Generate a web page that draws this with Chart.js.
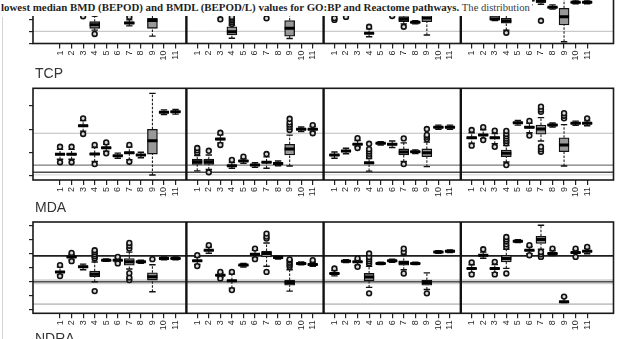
<!DOCTYPE html>
<html>
<head>
<meta charset="utf-8">
<script src="https://cdn.jsdelivr.net/npm/chart.js@4/dist/chart.umd.min.js"></script>
<style>
  html, body { margin: 0; padding: 0; background: #fff; }
  body { width: 629px; height: 339px; position: relative; overflow: hidden;
         font-family: "Liberation Sans", Arial, sans-serif; }
  canvas { position: absolute; left: 0; }
  .caption { position: absolute; left: 1px; top: 0; width: 531px; height: 16px; background: #fff;
             font-family: "Liberation Serif", "Times New Roman", serif; font-size: 10.9px;
             line-height: 15px; white-space: nowrap; color: #1e1e1e; z-index: 5; overflow: hidden; }
  .caption span { color: #3a3a3a; font-size: 10.6px; }
  .rowlabel { position: absolute; left: 35px; font-size: 14px; line-height: 14px; color: #333; z-index: 4; }
  .edge { position: absolute; left: 2px; top: 17px; width: 1px; height: 322px; background: #d4d4d4; }
</style>
</head>
<body>
<div class="edge"></div>
<div class="caption"><b>lowest median BMD (BEPOD) and BMDL (BEPOD/L) values for GO:BP and Reactome pathways.</b> <span>The distribution</span></div>
<canvas id="rowTop" width="629" height="130" style="top:-40px"></canvas>
<canvas id="rowTCP" width="629" height="130" style="top:80px"></canvas>
<canvas id="rowMDA" width="629" height="125" style="top:214px"></canvas>
<div class="rowlabel" style="top:66px">TCP</div>
<div class="rowlabel" style="top:200px">MDA</div>
<div class="rowlabel" style="top:331px">NDRA</div>

<script>
// Category labels shared by every panel
const categories = ['1', '2', '3', '4', '5', '6', '7', '8', '9', '10', '11'];

// Each entry: [lower whisker, Q1, median, Q3, upper whisker, [outliers]]
const rowTopPanel1 = [
  [2.9, 3.3, 3.5, 3.7, 4.2, []], [2.9, 3.3, 3.5, 3.7, 4.2, []], [2.8, 3.1, 3.3, 3.5, 3.9, [2.25]],
  [1.1, 1.25, 1.55, 1.80, 2.3, [0.78, 2.45]], [3.0, 3.4, 3.6, 3.8, 4.3, []], [3.1, 3.5, 3.7, 3.9, 4.4, []],
  [1.45, 1.62, 1.7, 1.78, 1.95, [2.2]], [3.0, 3.3, 3.5, 3.7, 4.1, []], [0.6, 1.25, 1.9, 2.08, 3.4, []],
  [3.3, 3.6, 3.8, 4.0, 4.4, []], [3.3, 3.6, 3.8, 4.0, 4.4, []]
];
const rowTopPanel2 = [
  [3.0, 3.4, 3.6, 3.8, 4.2, []], [3.0, 3.4, 3.6, 3.8, 4.2, []], [2.6, 3.0, 3.2, 3.4, 3.8, [2.0]],
  [0.42, 0.69, 0.97, 1.38, 1.5, [1.6, 1.75, 1.9, 2.05, 2.2]], [3.0, 3.3, 3.5, 3.7, 4.1, []],
  [3.1, 3.4, 3.6, 3.8, 4.2, []], [2.7, 3.1, 3.3, 3.5, 3.9, [2.08]], [3.0, 3.3, 3.5, 3.7, 4.1, []],
  [0.4, 0.6, 1.25, 1.9, 2.6, []], [3.4, 3.7, 3.9, 4.1, 4.5, []], [3.4, 3.7, 3.9, 4.1, 4.5, []]
];
const rowTopPanel3 = [
  [2.3, 2.6, 2.8, 3.0, 3.4, [1.95, 2.1]], [2.6, 2.9, 3.1, 3.3, 3.7, [2.2]], [2.9, 3.2, 3.4, 3.6, 4.0, []],
  [0.55, 0.80, 0.83, 0.86, 1.2, [1.38]], [3.0, 3.3, 3.5, 3.7, 4.1, []], [2.6, 3.0, 3.2, 3.4, 3.8, [2.28]],
  [1.62, 1.80, 2.0, 2.22, 2.8, [1.38]], [1.62, 1.71, 1.75, 1.79, 1.88, []], [0.69, 1.80, 2.1, 2.5, 3.2, []],
  [3.3, 3.6, 3.8, 4.0, 4.4, []], [3.3, 3.6, 3.8, 4.0, 4.4, []]
];
const rowTopPanel4 = [
  [3.0, 3.4, 3.6, 3.8, 4.2, []], [3.0, 3.4, 3.6, 3.8, 4.2, []], [1.9, 1.97, 2.02, 2.3, 2.8, []],
  [1.1, 1.67, 1.85, 2.08, 2.6, [0.88]], [3.0, 3.3, 3.5, 3.7, 4.1, []], [3.2, 3.5, 3.7, 3.9, 4.3, []],
  [3.25, 3.4, 3.5, 3.6, 3.9, [1.88]], [2.85, 2.95, 3.0, 3.05, 3.2, []], [0.13, 1.53, 2.22, 2.92, 3.7, []],
  [3.3, 3.38, 3.42, 3.46, 3.6, []], [3.3, 3.38, 3.42, 3.46, 3.6, []]
];

const rowTCPPanel1 = [
  [0.72, 0.90, 0.93, 0.96, 1.14, [0.59, 1.25]], [0.72, 0.90, 0.93, 0.96, 1.14, [0.59, 1.25]],
  [1.92, 2.11, 2.15, 2.19, 2.38, [1.80, 2.47]], [0.62, 0.90, 0.94, 0.98, 1.22, [0.51, 1.33]],
  [1.06, 1.18, 1.21, 1.24, 1.36, [0.97, 1.44]], [0.76, 0.84, 0.87, 0.90, 0.98, []],
  [0.70, 0.96, 1.00, 1.04, 1.24, [0.61, 1.33]], [0.78, 0.87, 0.90, 0.93, 1.02, []],
  [0.04, 0.94, 1.51, 2.00, 3.54, []], [2.63, 2.70, 2.73, 2.76, 2.83, []], [2.65, 2.72, 2.75, 2.78, 2.85, []]
];
const rowTCPPanel2 = [
  [0.22, 0.50, 0.61, 0.72, 0.88, [1.00, 1.10, 1.20]], [0.28, 0.50, 0.61, 0.72, 0.90, [0.16, 1.08]],
  [1.42, 1.54, 1.58, 1.62, 1.76, [1.33, 1.85]], [0.33, 0.41, 0.44, 0.47, 0.58, [0.69]],
  [0.54, 0.61, 0.64, 0.67, 0.74, [0.83]], [0.37, 0.44, 0.47, 0.50, 0.57, []],
  [0.33, 0.56, 0.59, 0.62, 0.82, [0.94]], [0.44, 0.51, 0.54, 0.57, 0.64, []],
  [0.43, 0.90, 1.16, 1.36, 1.75, [1.97, 2.10, 2.20, 2.30, 2.45]], [1.90, 1.97, 2.00, 2.03, 2.10, []],
  [1.88, 1.97, 2.00, 2.03, 2.12, [1.83, 2.18]]
];
const rowTCPPanel3 = [
  [0.76, 0.86, 0.90, 0.94, 1.03, []], [0.95, 1.03, 1.07, 1.11, 1.19, []],
  [1.25, 1.33, 1.36, 1.39, 1.52, [1.20, 1.62]], [0.21, 0.52, 0.57, 0.60, 0.75, [0.85, 0.95, 1.05, 1.15, 1.38]],
  [1.33, 1.37, 1.40, 1.43, 1.47, []], [1.22, 1.32, 1.36, 1.40, 1.50, []],
  [0.62, 0.90, 1.03, 1.16, 1.42, [0.51, 1.61]], [0.96, 1.01, 1.04, 1.07, 1.12, []],
  [0.40, 0.83, 1.00, 1.16, 1.45, [1.58, 1.68, 1.76, 2.01]], [2.00, 2.06, 2.09, 2.12, 2.18, []],
  [2.00, 2.06, 2.09, 2.12, 2.18, []]
];
const rowTCPPanel4 = [
  [1.40, 1.60, 1.64, 1.68, 1.85, [1.30, 1.97]], [1.60, 1.72, 1.76, 1.80, 1.98, [1.54, 2.09]],
  [1.38, 1.60, 1.64, 1.68, 1.82, [1.25, 1.94]], [0.60, 0.83, 0.97, 1.11, 1.30, [0.47, 1.40, 1.50, 1.60, 1.70, 1.80, 1.93]],
  [2.18, 2.25, 2.28, 2.31, 2.38, []], [1.85, 2.05, 2.09, 2.13, 2.26, [1.73, 2.36]],
  [1.50, 1.79, 2.01, 2.18, 2.50, [1.04, 1.15, 1.25, 2.75, 2.85, 2.97]], [2.10, 2.15, 2.18, 2.21, 2.27, []],
  [0.43, 1.04, 1.33, 1.64, 2.20, [2.47, 2.58, 2.69]], [2.17, 2.23, 2.26, 2.29, 2.35, []],
  [2.15, 2.23, 2.26, 2.29, 2.36, [2.47]]
];

const rowMDAPanel1 = [
  [2.50, 2.66, 2.70, 2.74, 3.05, [2.40, 3.18]], [3.55, 3.72, 3.76, 3.80, 3.95, [3.46, 4.04]],
  [2.85, 3.00, 3.06, 3.12, 3.25, []], [2.00, 2.35, 2.54, 2.75, 3.40, [1.34, 3.65, 3.80, 3.95, 4.10, 4.23]],
  [3.45, 3.50, 3.53, 3.56, 3.62, []], [3.38, 3.50, 3.53, 3.56, 3.68, [3.30, 3.76]],
  [2.90, 3.18, 3.41, 3.65, 4.10, [2.12, 2.30, 2.61, 4.35, 4.55, 4.75]], [3.30, 3.37, 3.41, 3.45, 3.52, []],
  [1.29, 2.12, 2.35, 2.63, 3.20, [3.60]], [3.55, 3.62, 3.65, 3.68, 3.75, []], [3.55, 3.62, 3.65, 3.68, 3.75, []]
];
const rowMDAPanel2 = [
  [3.22, 3.44, 3.48, 3.52, 3.75, [3.11, 3.88]], [4.02, 4.19, 4.23, 4.27, 4.45, [4.59]],
  [2.32, 2.44, 2.47, 2.50, 2.62, [2.24, 2.70]], [1.55, 2.03, 2.07, 2.11, 2.55, [1.41, 2.70]],
  [3.05, 3.14, 3.18, 3.22, 3.30, []], [3.70, 3.91, 3.95, 3.99, 4.22, [3.60, 4.35]],
  [3.10, 3.76, 4.00, 4.18, 4.75, [2.70, 5.06, 5.20, 5.41]], [3.60, 3.68, 3.72, 3.76, 3.84, []],
  [1.34, 1.76, 1.95, 2.12, 2.85, [3.06, 3.20, 3.35, 3.50, 3.58]], [3.20, 3.27, 3.30, 3.33, 3.40, []],
  [3.10, 3.19, 3.23, 3.27, 3.38, [3.53]]
];
const rowMDAPanel3 = [
  [2.42, 2.55, 2.59, 2.63, 2.80, [2.94]], [3.36, 3.42, 3.46, 3.50, 3.57, []],
  [3.15, 3.37, 3.41, 3.45, 3.55, [3.06, 3.65]], [1.60, 2.07, 2.33, 2.59, 3.10, [1.18, 3.30, 3.45, 3.60, 3.75, 4.00]],
  [3.22, 3.27, 3.30, 3.33, 3.38, []], [3.38, 3.44, 3.48, 3.52, 3.60, []],
  [2.85, 3.18, 3.34, 3.48, 3.90, [2.59, 4.11, 4.35]], [3.22, 3.27, 3.30, 3.33, 3.38, []],
  [1.45, 1.76, 1.95, 2.12, 2.63, [1.18]], [4.02, 4.08, 4.11, 4.14, 4.20, []], [4.06, 4.12, 4.16, 4.20, 4.26, []]
];
const rowMDAPanel4 = [
  [2.65, 2.90, 2.94, 2.98, 3.20, [2.52, 3.37]], [3.67, 3.84, 3.88, 3.92, 4.10, [4.30]],
  [2.65, 2.90, 2.94, 2.98, 3.22, [2.52, 3.41]], [2.95, 3.41, 3.65, 3.88, 4.30, [2.59, 4.47, 4.65, 4.85, 5.00, 5.17]],
  [4.77, 4.83, 4.87, 4.91, 4.98, []], [3.98, 4.19, 4.23, 4.27, 4.48, [3.88, 4.59]],
  [4.30, 4.71, 4.99, 5.22, 6.00, [3.76, 3.95, 4.11]], [3.85, 3.96, 4.00, 4.04, 4.20, [4.35]],
  [0.52, 0.52, 0.58, 0.64, 0.90, [0.95]], [3.85, 4.03, 4.07, 4.11, 4.25, [3.76, 4.35]],
  [3.98, 4.12, 4.16, 4.20, 4.35, [4.47]]
];

// Horizontal reference levels per row
const refTop = [1.0];
const refTCP = [1.83, 0.47, 0.16, 0.05];
const refMDA = [3.83, 2.0, 2.0, 0.42];

// y-axis tick values per row
const ticksTop = [0, 1, 2, 3, 4, 5, 6];
const ticksTCP = [0, 1, 2, 3];
const ticksMDA = [0, 1, 2, 3, 4, 5, 6];

// ---- layout / styling ----
const PANEL_STEP = 11.88;          // x-distance between the first items of neighbouring panels
const X_MIN = -2.34, X_MAX = 47.92;
const refStyles = {
  top: [{ color: '#bdbdbd', width: 1 }],
  tcp: [{ color: '#bdbdbd', width: 1 }, { color: '#7a7a7a', width: 1.2 }, { color: '#4a4a4a', width: 1.4 }, { color: '#d4d4d4', width: 1 }],
  mda: [{ color: '#1e1e1e', width: 1.7 }, { color: '#d2d2d2', width: 5 }, { color: '#555', width: 1.5 }, { color: '#c6c6c6', width: 1.6 }]
};

const tickPositions = [];
for (let p = 0; p < 4; p++) for (let i = 0; i < categories.length; i++) tickPositions.push(p * PANEL_STEP + i);

const panelFrame = {
  id: 'panelFrame',
  afterDatasetsDraw(chart) {
    const { ctx, chartArea: a, scales: { x } } = chart;
    ctx.save();
    ctx.strokeStyle = '#1a1a1a';
    ctx.lineWidth = 1.6;
    ctx.strokeRect(a.left, a.top, a.right - a.left, a.bottom - a.top);
    ctx.lineWidth = 2.4;
    ctx.strokeStyle = '#111';
    for (let p = 1; p < 4; p++) {
      const px = x.getPixelForValue(p * PANEL_STEP - 0.94);
      ctx.beginPath();
      ctx.moveTo(px, a.top);
      ctx.lineTo(px, a.bottom);
      ctx.stroke();
    }
    ctx.restore();
  }
};

function buildRow(id, panels, refs, styles, yTicks, yMin, yMax, padTop, padBottom) {
  const boxes = [], medians = [], caps = [], whiskers = [], outliers = [];
  panels.forEach((panel, p) => panel.forEach((s, i) => {
    const x = p * PANEL_STEP + i;
    const [lo, q1, med, q3, hi, outs] = s;
    boxes.push({ x, y: [q1, q3] });
    medians.push({ x, y: med });
    caps.push({ x, y: lo }, { x, y: hi });
    whiskers.push({ x, y: lo }, { x, y: q1 }, { x, y: null }, { x, y: q3 }, { x, y: hi }, { x, y: null });
    outs.forEach(v => outliers.push({ x, y: v }));
  }));

  const refSets = refs.map((v, k) => ({
    type: 'line',
    data: [{ x: X_MIN, y: v }, { x: X_MAX, y: v }],
    borderColor: styles[k].color, borderWidth: styles[k].width,
    pointRadius: 0, order: 20 - k
  }));

  new Chart(document.getElementById(id), {
    type: 'bar',
    data: {
      datasets: [
        { type: 'scatter', data: outliers, pointStyle: 'circle', pointRadius: 2.4,
          borderWidth: 1.6, borderColor: '#111', backgroundColor: '#d8d8d8', order: 1 },
        { type: 'scatter', data: medians, pointStyle: 'line', pointRadius: 5,
          borderWidth: 3, borderColor: '#000', order: 2 },
        { type: 'bar', data: boxes, barThickness: 10, backgroundColor: '#999',
          borderColor: '#111', borderWidth: 1.3, borderSkipped: false, order: 3 },
        { type: 'scatter', data: caps, pointStyle: 'line', pointRadius: 3.2,
          borderWidth: 1.4, borderColor: '#111', order: 4 },
        { type: 'line', data: whiskers, borderColor: '#222', borderWidth: 1.1,
          borderDash: [2.5, 1.5], pointRadius: 0, spanGaps: false, order: 5 },
        ...refSets
      ]
    },
    options: {
      responsive: false,
      animation: false,
      events: [],
      layout: { padding: { left: 0, right: 15.5, top: padTop, bottom: padBottom } },
      plugins: { legend: { display: false }, tooltip: { enabled: false } },
      scales: {
        x: {
          type: 'linear', min: X_MIN, max: X_MAX, offset: false,
          afterBuildTicks: s => { s.ticks = tickPositions.map(v => ({ value: v })); },
          afterFit: s => { s.height = 20; s.paddingLeft = 0; s.paddingRight = 0; },
          grid: { drawOnChartArea: false, drawTicks: true, tickLength: 5, color: '#222', lineWidth: 1.2, offset: false },
          border: { display: false },
          ticks: {
            autoSkip: false, minRotation: 90, maxRotation: 90, padding: 2,
            font: { size: 9, family: 'Liberation Sans' }, color: '#2a2a2a',
            callback: (v, idx) => categories[idx % categories.length]
          }
        },
        y: {
          type: 'linear', min: yMin, max: yMax,
          afterBuildTicks: s => { s.ticks = yTicks.map(v => ({ value: v })); },
          afterFit: s => { s.width = 33; s.paddingTop = 0; s.paddingBottom = 0; },
          grid: { drawOnChartArea: false, drawTicks: true, tickLength: 4, color: '#222', lineWidth: 1.2 },
          border: { display: false },
          ticks: { display: false }
        }
      }
    },
    plugins: [panelFrame]
  });
}

buildRow('rowTop', [rowTopPanel1, rowTopPanel2, rowTopPanel3, rowTopPanel4], refTop, refStyles.top,
         ticksTop, -0.017, 6.11, 10, 26.5);
buildRow('rowTCP', [rowTCPPanel1, rowTCPPanel2, rowTCPPanel3, rowTCPPanel4], refTCP, refStyles.tcp,
         ticksTCP, -0.171, 3.756, 8.3, 10);
buildRow('rowMDA', [rowMDAPanel1, rowMDAPanel2, rowMDAPanel3, rowMDAPanel4], refMDA, refStyles.mda,
         ticksMDA, -0.233, 6.232, 7.7, 5.7);
</script>
</body>
</html>
